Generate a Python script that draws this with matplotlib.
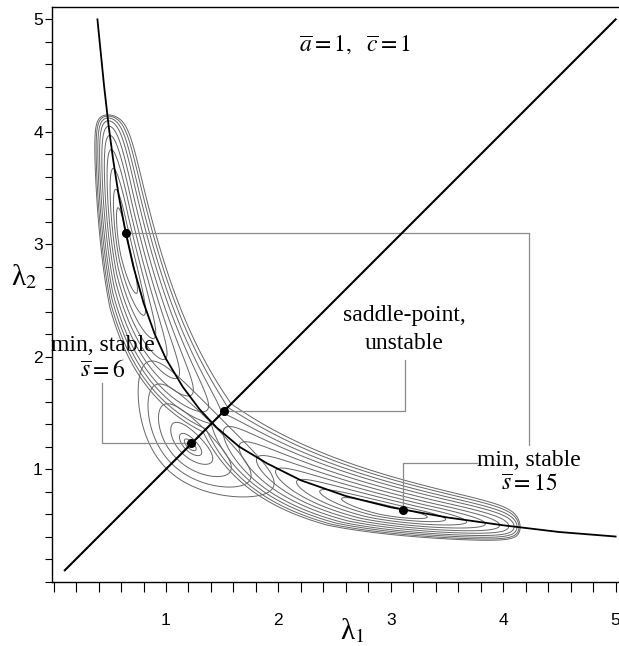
#!/usr/bin/env python3
"""Energy landscape in the (lambda1, lambda2) plane for a=1, c=1."""

import matplotlib

matplotlib.use("Agg")

import matplotlib.pyplot as plt
import numpy as np
from matplotlib.ticker import MultipleLocator, FixedLocator

plt.rcParams["mathtext.fontset"] = "stix"
plt.rcParams["font.family"] = ["Liberation Serif", "DejaVu Serif"]

# hyperbola lambda1 * lambda2 = const
CURVE_L1 = [0.39, 0.42, 0.45, 0.49, 0.53, 0.58, 0.64, 0.71, 0.80, 0.90, 1.00,
            1.15, 1.30, 1.45, 1.65, 1.90, 2.20, 2.60, 3.00, 3.50, 4.00, 4.50, 5.00]
CURVE_L2 = [5.00, 4.70, 4.40, 4.05, 3.75, 3.43, 3.11, 2.80, 2.48, 2.20, 1.98,
            1.73, 1.53, 1.37, 1.20, 1.05, 0.90, 0.76, 0.66, 0.57, 0.50, 0.44, 0.40]
CURVE_PRODUCT = 1.98

# diagonal lambda1 = lambda2
DIAG = [0.10, 5.00]

# marked critical points: upper min, lower min, saddle, small min
POINT_L1 = [0.64, 3.11, 1.52, 1.22]
POINT_L2 = [3.10, 0.64, 1.52, 1.23]

# landscape model in t = ln(l1/l2)/2, r = ln(l1*l2/P)/2
DEEP_T = 0.79           # position of the s=15 minima along the curve
DEEP_R0 = -0.03         # offset of the wells across the curve
DEEP_RSHIFT = 0.06      # extra offset of the connecting band near the diagonal
DEEP_WT = [0.68, 0.42]  # width along curve: inner side, outer side
DEEP_WR = 0.15          # width across curve at the minima
DEEP_NARROW = 0.30      # relative narrowing of the band towards the diagonal
DEEP_LMAX = 4.22        # the landscape closes at max(l1, l2) = LMAX
DEEP_LEVELS = [0.28, 0.40, 0.54, 0.68, 0.82, 0.96, 1.10, 1.22, 1.34, 1.44]

SMALL_T = 0.0
SMALL_R = -0.147
SMALL_WT = 0.44
SMALL_WR = 0.19
SMALL_LEVELS = [0.09, 0.17, 0.32, 0.55, 0.77, 1.0]

X_TICKS = [1, 2, 3, 4, 5]
Y_TICKS = [1, 2, 3, 4, 5]


def elbow(ax, pts):
    xs, ys = zip(*pts)
    ax.plot(xs, ys, color="#8a8a8a", lw=0.9, zorder=2, clip_on=False)


def main():
    fig = plt.figure(figsize=(6.19, 6.46), dpi=100)
    ax = fig.add_axes([51.9 / 619, 64.5 / 646, 1 - 51.9 / 619, 574.5 / 646])

    l1, l2 = np.meshgrid(np.linspace(0.3, 5.0, 800), np.linspace(0.3, 5.0, 800))
    t = 0.5 * np.log(l1 / l2)
    r = 0.5 * np.log(l1 * l2 / CURVE_PRODUCT)

    # crescent wells along the hyperbola, joined by a band near the diagonal
    at = np.abs(t)
    inner = at < DEEP_T
    frac = np.clip(1 - at / DEEP_T, 0, 1)
    wt = np.where(inner, DEEP_WT[0], DEEP_WT[1])
    r0 = DEEP_R0 + DEEP_RSHIFT * frac
    wr = DEEP_WR * (1 - DEEP_NARROW * frac)
    d_deep = np.sqrt(((at - DEEP_T) / wt) ** 2 + ((r - r0) / wr) ** 2)
    gap = DEEP_LMAX - np.maximum(l1, l2)
    d_deep = np.where(gap > 0, d_deep + 0.05 / np.clip(gap, 1e-6, None), 10)

    d_small = np.sqrt(((t - SMALL_T) / SMALL_WT) ** 2 + ((r - SMALL_R) / SMALL_WR) ** 2)

    ax.contour(l1, l2, d_deep, levels=DEEP_LEVELS, colors="#666666",
               linewidths=0.7, zorder=1)
    ax.contour(l1, l2, d_small, levels=SMALL_LEVELS, colors="#666666",
               linewidths=0.7, zorder=1)

    ax.plot(CURVE_L1, CURVE_L2, color="black", lw=1.3, zorder=3)
    ax.plot(DIAG, DIAG, color="black", lw=1.5, zorder=3)
    ax.plot(POINT_L1, POINT_L2, "o", color="black", ms=5.5, zorder=4)

    # connectors
    elbow(ax, [(POINT_L1[0], POINT_L2[0]), (4.23, POINT_L2[0]), (4.23, 1.21)])
    elbow(ax, [(POINT_L1[1], POINT_L2[1]), (POINT_L1[1], 1.05), (3.77, 1.05)])
    elbow(ax, [(POINT_L1[2], POINT_L2[2]), (3.13, POINT_L2[2]), (3.13, 1.97)])
    elbow(ax, [(POINT_L1[3], POINT_L2[3]), (0.43, POINT_L2[3]), (0.43, 1.77)])

    fs = 17
    ax.text(4.23, 1.08, "min, stable", ha="center", va="center", fontsize=fs)
    ax.text(4.23, 0.86, r"$\overline{s}=15$", ha="center", va="center", fontsize=fs)
    ax.text(3.12, 2.37, "saddle-point,", ha="center", va="center", fontsize=fs)
    ax.text(3.12, 2.12, "unstable", ha="center", va="center", fontsize=fs)
    ax.text(0.435, 2.10, "min, stable", ha="center", va="center", fontsize=fs,
            clip_on=False)
    ax.text(0.44, 1.87, r"$\overline{s}=6$", ha="center", va="center", fontsize=fs)
    ax.text(2.18, 4.77, r"$\overline{a}=1,\ \ \overline{c}=1$", ha="left",
            va="center", fontsize=fs)

    ax.set_xlim(-0.015, 5.03)
    ax.set_ylim(0, 5.11)
    ax.spines["right"].set_visible(False)
    for s in ["left", "bottom", "top"]:
        ax.spines[s].set_linewidth(1.0)

    ax.xaxis.set_major_locator(FixedLocator(X_TICKS))
    ax.yaxis.set_major_locator(FixedLocator(Y_TICKS))
    ax.xaxis.set_minor_locator(MultipleLocator(0.2))
    ax.yaxis.set_minor_locator(MultipleLocator(0.2))
    ax.tick_params(axis="x", which="both", direction="out", length=7, width=0.8,
                   pad=16, top=False)
    ax.tick_params(axis="y", which="both", direction="out", length=5, width=0.8,
                   pad=1.5, right=False)
    for lab in ax.get_xticklabels() + ax.get_yticklabels():
        lab.set_family(["Liberation Sans Narrow", "Liberation Sans"])
        lab.set_fontsize(12.5)

    fig.text(352 / 619, 1 - 631 / 646, "λ$_1$", ha="center", va="center", fontsize=21)
    fig.text(24 / 619, 1 - 277 / 646, "λ$_2$", ha="center", va="center", fontsize=21)

    fig.savefig("out.png", dpi=100)


if __name__ == "__main__":
    main()
